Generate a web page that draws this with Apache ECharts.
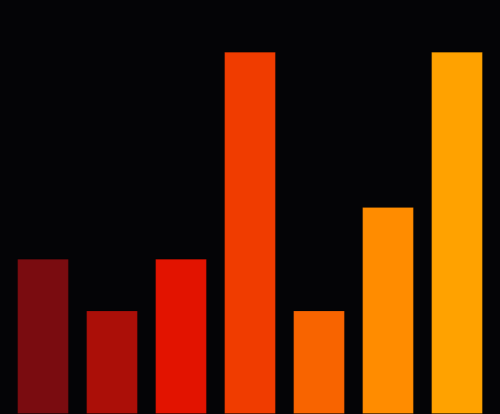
<!DOCTYPE html>
<html><head><meta charset="utf-8">
<script src="https://cdn.jsdelivr.net/npm/echarts@6/dist/echarts.min.js"></script>
<style>html,body{margin:0;padding:0;background:#040406;}#c{width:500px;height:414px;}</style>
</head><body><div id="c"></div>
<script>
const categories = ['A','B','C','D','E','F','G'];
const values = [3, 2, 3, 7, 2, 4, 7];
const colors = ['#7a0c10','#ab0f08','#e21300','#f03c00','#f86400','#ff8c00','#ffa200'];
const chart = echarts.init(document.getElementById('c'));
chart.setOption({
  backgroundColor: '#040406',
  animation: false,
  grid: {left: 8.5, right: 8.5, top: 0, bottom: 0},
  xAxis: {type: 'category', data: categories, show: false},
  yAxis: {type: 'value', min: 0, max: 8, show: false},
  series: [{
    type: 'bar',
    barCategoryGap: '25%',
    data: values.map((v, i) => ({value: v, itemStyle: {color: colors[i], borderColor: 'rgba(0,0,0,0.15)', borderWidth: 1}}))
  }]
});
</script></body></html>
